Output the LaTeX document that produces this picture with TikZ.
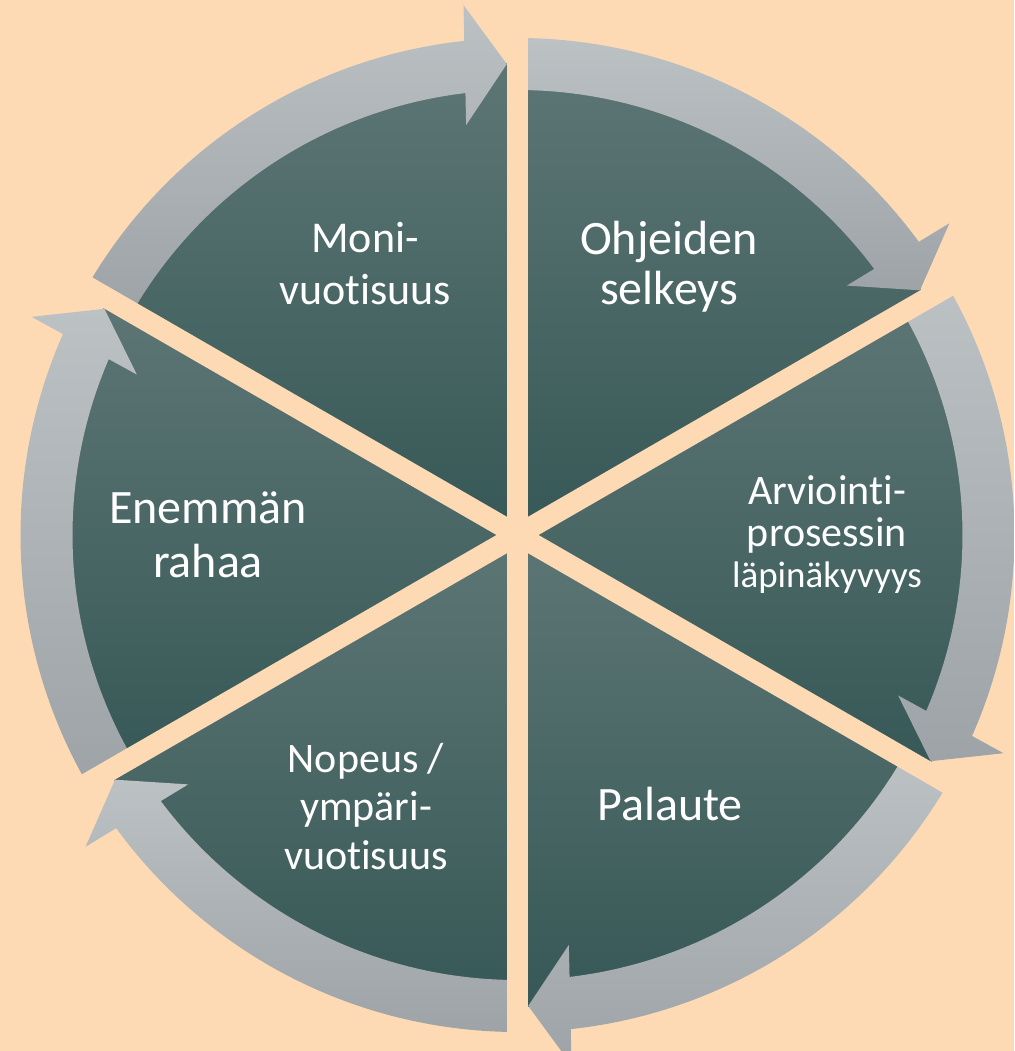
\documentclass[tikz,border=0pt]{standalone}
\usepackage{fontspec}
\setmainfont{Carlito}[Ligatures={NoCommon,NoContextual}]
\definecolor{Peach}{RGB}{254,218,180}
\definecolor{SecLight}{RGB}{93,118,117}
\definecolor{SecDark}{RGB}{54,88,86}
\definecolor{ArrowLight}{RGB}{188,193,196}
\definecolor{ArrowDark}{RGB}{157,163,166}
\newcommand{\bigtxt}{\fontsize{48}{50}\selectfont}
\newcommand{\midtxt}{\fontsize{44}{50}\selectfont}
\newcommand{\smalltxt}{\fontsize{42}{48}\selectfont}
\newcommand{\tinytxt}{\fontsize{37}{42}\selectfont}

\begin{document}
\begin{tikzpicture}[x=1pt, y=1pt,
    sector/.style={top color=SecLight, bottom color=SecDark},
    ringarrow/.style={top color=ArrowLight, bottom color=ArrowDark},
    gapline/.style={draw=Peach, line width=21pt},
    lbl/.style={text=white, anchor=base, inner sep=0pt}]

  % Background
  \fill[Peach] (-517.5,-516) rectangle (496.5,535);
  \useasboundingbox (-517.5,-516) rectangle (496.5,535);

  % Pie sectors
  \foreach \a in {30,-30,-90,-150,150,90}
    \shade[sector] (0,0) -- (\a:472) arc[start angle=\a, end angle=\a+60, radius=472pt] -- cycle;

  % Ring arrows (clockwise)
  \foreach \a in {30,-30,-90,-150,150,90} {
    \pgfmathsetmacro\tail{\a+60}
    \pgfmathsetmacro\tip{\a+1.3}
    \shade[ringarrow] (\tail:497) arc[start angle=\tail, end angle=\tip+4.85, radius=497pt]
      -- (\tip+4.52:532.7) -- (\tip:471) -- (\tip+5.84:413.1) -- (\tip+5.42:445)
      arc[start angle=\tip+5.42, end angle=\tail, radius=445pt] -- cycle;
  }

  % Gaps between sectors
  \foreach \g in {90,30,-30}
    \draw[gapline] (\g:540) -- (\g+180:540);

  % Labels
  \node[lbl, font=\midtxt] (moni1) at (-152.5,282) {Moni-};
  \node[lbl, font=\midtxt] (moni2) at (-152.5,230) {vuotisuus};

  \node[lbl, font=\bigtxt] (ohj1) at (151.5,280) {Ohjeiden};
  \node[lbl, font=\bigtxt] (ohj2) at (151.5,230) {selkeys};

  \node[lbl, font=\smalltxt] (arv1) at (309.5,30) {Arviointi-};
  \node[lbl, font=\smalltxt] (arv2) at (309.5,-12) {prosessin};
  \node[lbl, font=\tinytxt] (arv3) at (309.5,-53) {läpinäkyvyys};

  \node[lbl, font=\bigtxt] (pal) at (152.5,-285) {Palaute};

  \node[lbl, font=\smalltxt] (nop1) at (-151.5,-237) {Nopeus /};
  \node[lbl, font=\smalltxt] (nop2) at (-151.5,-285) {ympäri-};
  \node[lbl, font=\smalltxt] (nop3) at (-151.5,-334) {vuotisuus};

  \node[lbl, font=\bigtxt] (ene1) at (-309.5,11) {Enemmän};
  \node[lbl, font=\bigtxt] (ene2) at (-309.5,-43) {rahaa};
\end{tikzpicture}
\end{document}
